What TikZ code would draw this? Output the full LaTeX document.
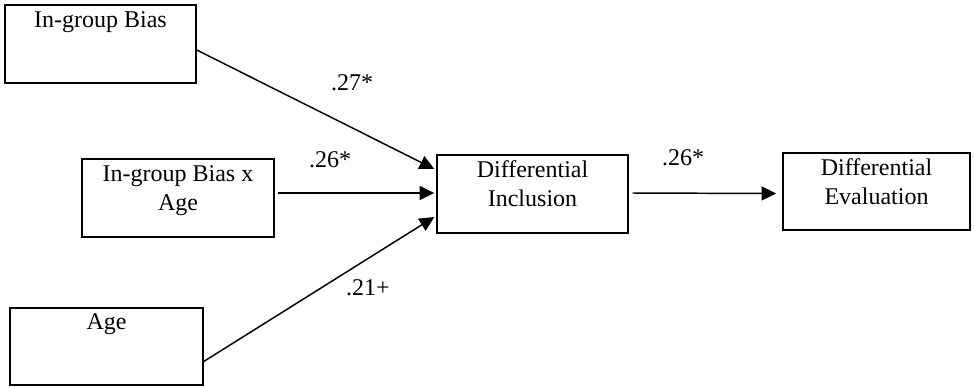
\documentclass[tikz,border=0pt]{standalone}
\usepackage{fontspec}
\setmainfont{Liberation Serif}
\usetikzlibrary{arrows.meta}
\tikzset{
  box/.style={draw, line width=1.1pt, inner sep=0pt},
  txt/.style={anchor=north, inner sep=0pt, align=center, font=\fontsize{18}{21.75}\selectfont},
  coef/.style={inner sep=0pt, font=\fontsize{18}{21.75}\selectfont},
  path/.style={line width=1.1pt, -{Triangle[length=11pt, width=10.5pt]}}
}
\begin{document}
\begin{tikzpicture}[x=0.75pt, y=-0.75pt]
        \useasboundingbox (0, 0) rectangle (974, 387);
        \node[box, minimum width=143.25pt, minimum height=58.5pt] (bias) at (100.5, 44) {};
        \node[box, minimum width=144pt, minimum height=58.5pt] (inter) at (178, 198) {};
        \node[box, minimum width=144.75pt, minimum height=57.75pt] (age) at (106.5, 346.5) {};
        \node[box, minimum width=143.25pt, minimum height=58.5pt] (incl) at (532.5, 194) {};
        \node[box, minimum width=140.25pt, minimum height=57.75pt] (eval) at (876.5, 191.5) {};
        \node[txt] (biastext) at ([yshift=-5.5pt]bias.north) {In-group Bias};
        \node[txt] (intertext) at ([yshift=-5.5pt]inter.north) {In-group Bias x\\Age};
        \node[txt] (agetext) at ([yshift=-4.5pt]age.north) {Age};
        \node[txt] (incltext) at ([yshift=-4.5pt]incl.north) {Differential\\Inclusion};
        \node[txt] (evaltext) at ([yshift=-4.5pt]eval.north) {Differential\\Evaluation};
        \coordinate (biasout) at ([yshift=-4.5pt]bias.east);
        \coordinate (interout) at ([yshift=3.75pt, xshift=2.25pt]inter.east);
        \coordinate (ageout) at ([yshift=-11.25pt]age.east);
        \coordinate (inclin1) at ([yshift=18.75pt, xshift=-1.5pt]incl.west);
        \coordinate (inclin2) at ([yshift=0.75pt, xshift=-1.5pt]incl.west);
        \coordinate (inclin3) at ([yshift=-17.25pt, xshift=-1.5pt]incl.west);
        \coordinate (inclout) at ([yshift=0.75pt, xshift=3pt]incl.east);
        \coordinate (evalin) at ([yshift=-1.5pt, xshift=-4.5pt]eval.west);
        \draw[path] (biasout) -- (inclin1);
        \draw[path] (interout) -- (inclin2);
        \draw[path] (ageout) -- (inclin3);
        \draw[path] (inclout) -- (evalin);
        \node[coef] (b1) at (352, 83) {.27*};
        \node[coef] (b2) at (330, 160) {.26*};
        \node[coef] (b3) at (368, 288) {.21+};
        \node[coef] (b4) at (683, 158) {.26*};
    \end{tikzpicture}
\end{document}
